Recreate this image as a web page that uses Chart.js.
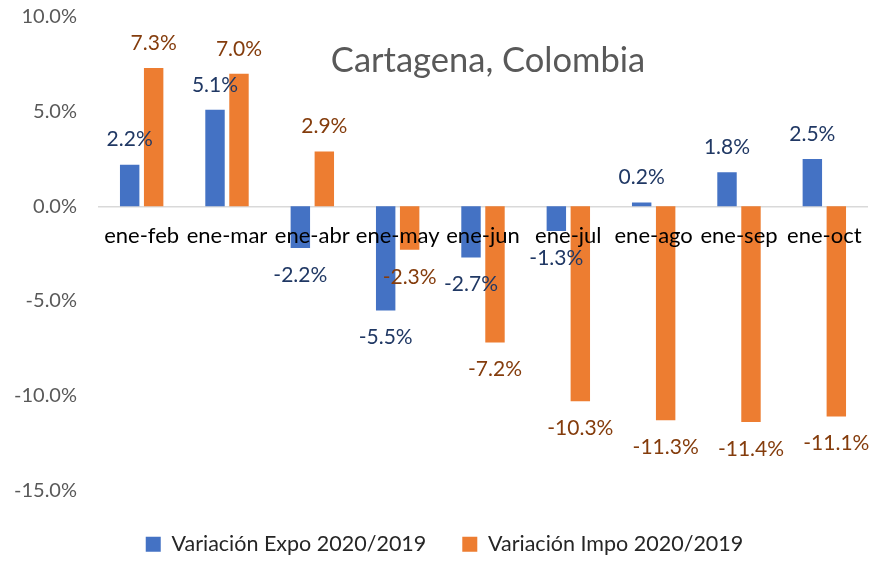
<!DOCTYPE html>
<html>
<head>
<meta charset="utf-8">
<script src="https://cdn.jsdelivr.net/npm/chart.js@4.4.0/dist/chart.umd.min.js"></script>
<style>
  html, body { margin: 0; padding: 0; background: #fff; }
  #contenedor { width: 871px; height: 563px; }
</style>
</head>
<body>
<div id="contenedor"><canvas id="grafico"></canvas></div>
<script>
// Datos
const categorias = ['ene-feb', 'ene-mar', 'ene-abr', 'ene-may', 'ene-jun', 'ene-jul', 'ene-ago', 'ene-sep', 'ene-oct'];
const variacionExpo = [2.2, 5.1, -2.2, -5.5, -2.7, -1.3, 0.2, 1.8, 2.5];
const variacionImpo = [7.3, 7.0, 2.9, -2.3, -7.2, -10.3, -11.3, -11.4, -11.1];
const nombresSeries = ['Variación Expo 2020/2019', 'Variación Impo 2020/2019'];
const ejeY = { min: -15, max: 10, paso: 5 };
const titulo = 'Cartagena, Colombia';

const fuente = 'Lato, "Noto Sans", sans-serif';

// Etiquetas de valor sobre/bajo las barras y título dentro del área
const etiquetasPlugin = {
    id: 'etiquetas',
    afterDatasetsDraw(chart) {
        const ctx = chart.ctx;
        ctx.save();
        ctx.font = '21px ' + fuente;
        ctx.textAlign = 'center';
        ctx.textBaseline = 'middle';
        chart.data.datasets.forEach((ds, i) => {
            const meta = chart.getDatasetMeta(i);
            ctx.fillStyle = ds.colorEtiqueta;
            meta.data.forEach((barra, j) => {
                const v = ds.data[j];
                const y = v >= 0 ? barra.y - 25 : barra.y + 27;
                ctx.fillText(v.toFixed(1) + '%', barra.x, y);
            });
        });

        const area = chart.chartArea;
        ctx.font = '34.5px ' + fuente;
        ctx.fillStyle = '#595959';
        ctx.fillText(titulo, (area.left + area.right) / 2 + 5, area.top + 44);
        ctx.restore();
    }
};

const ctx = document.getElementById('grafico').getContext('2d');
new Chart(ctx, {
    type: 'bar',
    data: {
        labels: categorias,
        datasets: [{
            label: nombresSeries[0],
            data: variacionExpo,
            backgroundColor: '#4472C4',
            colorEtiqueta: '#203864',
            categoryPercentage: 0.562,
            barPercentage: 0.81
        }, {
            label: nombresSeries[1],
            data: variacionImpo,
            backgroundColor: '#ED7D31',
            colorEtiqueta: '#843C0C',
            categoryPercentage: 0.562,
            barPercentage: 0.81
        }]
    },
    options: {
        responsive: true,
        maintainAspectRatio: false,
        animation: false,
        layout: {
            padding: { top: 17, right: 4, bottom: -2, left: 22 }
        },
        scales: {
            x: {
                position: { y: 0 },
                afterFit(escala) {
                    escala.height = 0;
                    escala.paddingLeft = 0;
                    escala.paddingRight = 0;
                },
                grid: { display: false, drawTicks: false },
                border: { display: true, color: '#D9D9D9', width: 1.5 },
                ticks: {
                    z: 1,
                    color: '#000',
                    font: { family: fuente, size: 22 },
                    padding: 16,
                    maxRotation: 0,
                    minRotation: 0,
                    autoSkip: false
                }
            },
            y: {
                min: ejeY.min,
                max: ejeY.max,
                grid: { display: false, drawTicks: false },
                border: { display: false },
                afterFit(escala) {
                    escala.width = 77;
                    escala.paddingTop = 0;
                    escala.paddingBottom = 0;
                    // que las etiquetas largas ("-15.0%") no se recorten en el borde del eje
                    escala._computeLabelArea = () => undefined;
                },
                ticks: {
                    stepSize: ejeY.paso,
                    color: '#595959',
                    font: { family: fuente, size: 20 },
                    padding: 22,
                    callback: v => v.toFixed(1) + '%'
                }
            }
        },
        plugins: {
            title: { display: false },
            tooltip: { enabled: false },
            legend: {
                position: 'bottom',
                title: { display: true, text: ' ', padding: 0, font: { size: 5, lineHeight: 1.45 } },
                labels: {
                    boxWidth: 15,
                    boxHeight: 15,
                    padding: 36,
                    color: '#262626',
                    font: { family: fuente, size: 21.5 }
                }
            }
        }
    },
    plugins: [etiquetasPlugin]
});
</script>
</body>
</html>
